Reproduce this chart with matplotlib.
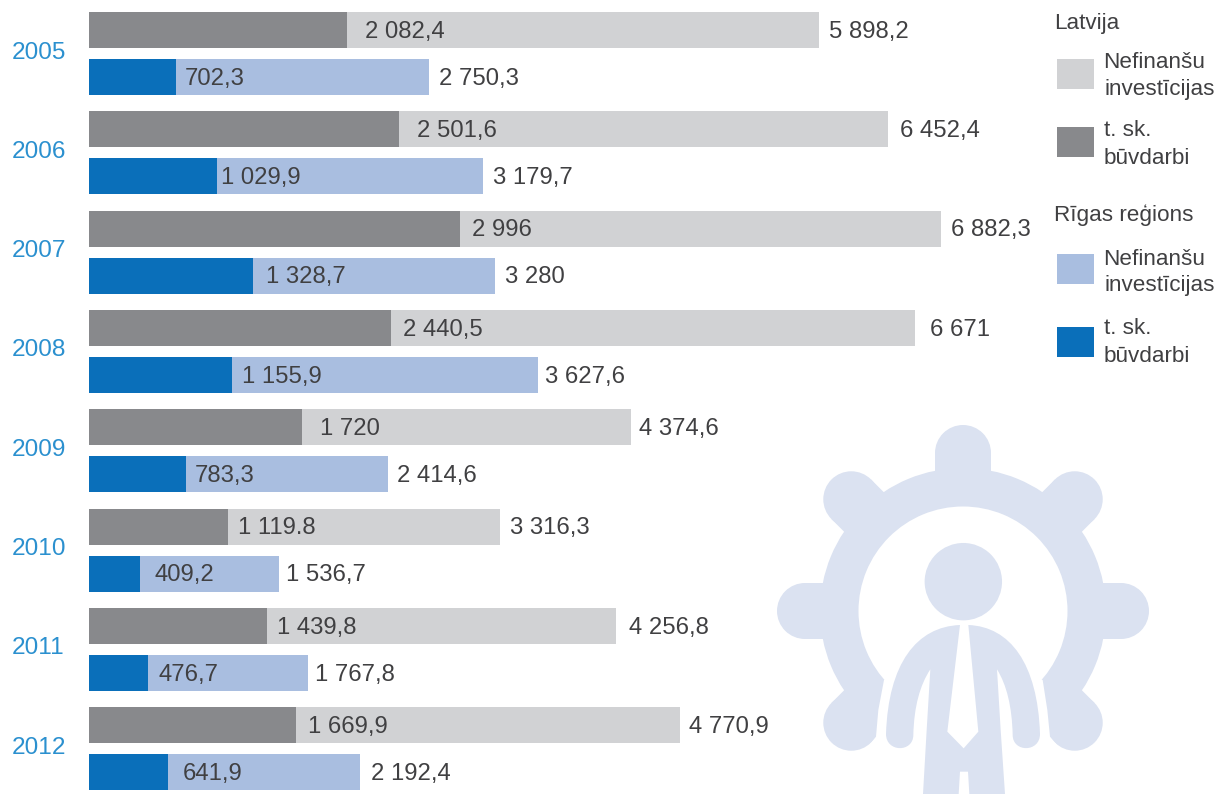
import matplotlib
matplotlib.use('Agg')
import matplotlib.pyplot as plt
import numpy as np
from matplotlib.patches import Circle, Wedge, Polygon, Rectangle, PathPatch
from matplotlib.path import Path

plt.rcParams['font.family'] = ['Liberation Sans', 'DejaVu Sans']

years = ['2005', '2006', '2007', '2008', '2009', '2010', '2011', '2012']
lv_total = [5898.2, 6452.4, 6882.3, 6671, 4374.6, 3316.3, 4256.8, 4770.9]
lv_constr = [2082.4, 2501.6, 2996, 2440.5, 1720, 1119.8, 1439.8, 1669.9]
riga_total = [2750.3, 3179.7, 3280, 3627.6, 2414.6, 1536.7, 1767.8, 2192.4]
riga_constr = [702.3, 1029.9, 1328.7, 1155.9, 783.3, 409.2, 476.7, 641.9]

lv_total_txt = ['5 898,2', '6 452,4', '6 882,3', '6 671', '4 374,6', '3 316,3', '4 256,8', '4 770,9']
lv_constr_txt = ['2 082,4', '2 501,6', '2 996', '2 440,5', '1 720', '1 119.8', '1 439,8', '1 669,9']
riga_total_txt = ['2 750,3', '3 179,7', '3 280', '3 627,6', '2 414,6', '1 536,7', '1 767,8', '2 192,4']
riga_constr_txt = ['702,3', '1 029,9', '1 328,7', '1 155,9', '783,3', '409,2', '476,7', '641,9']

# label gaps after the bar end, in pixels
lv_total_gap = [10, 12, 10, 15, 8, 10, 13, 9]
lv_constr_gap = [18, 18, 12, 12, 18, 10, 10, 12]
riga_total_gap = [10, 10, 10, 7, 9, 7, 7, 11]
riga_constr_gap = [9, 4, 13, 10, 9, 15, 10, 14]

W, H = 1227, 794
PX_PER_UNIT = 0.1238
PITCH = 99.3
TEXT = '#404042'
FS = 17.2

fig = plt.figure(figsize=(W / 100, H / 100), dpi=100)

# icon and legend sit in plain pixel coordinates
bg = fig.add_axes([0, 0, 1, 1])
bg.set_xlim(0, W)
bg.set_ylim(H, 0)
bg.axis('off')

ICON = '#dbe2f1'


def z(x, y):
    # zoomed crop coords to pixels
    return (770 + x / 3, 410 + y / 3)


cx, cy = z(579, 603)
for ang in [0, 45, 90, 135, 180, 225, 270, 315]:
    a = np.radians(ang)
    ux, uy = np.cos(a), np.sin(a)
    px, py = -uy * 28, ux * 28
    r0, r1 = 120, 158
    bg.add_patch(Polygon([(cx + ux * r0 + px, cy + uy * r0 + py), (cx + ux * r1 + px, cy + uy * r1 + py),
                          (cx + ux * r1 - px, cy + uy * r1 - py), (cx + ux * r0 - px, cy + uy * r0 - py)],
                         fc=ICON, ec='none', zorder=1))
    bg.add_patch(Circle((cx + ux * r1, cy + uy * r1), 28, fc=ICON, ec='none', zorder=1))
bg.add_patch(Wedge((cx, cy), 143, 0, 360, width=38.5, fc=ICON, ec='none', zorder=1))
cut = [z(*p) for p in [(342, 810), (325, 900), (318, 980), (270, 1040), (270, 1160), (890, 1160),
                       (890, 1040), (840, 980), (832, 900), (818, 810), (579, 700)]]
bg.add_patch(Polygon(cut, fc='white', ec='none', zorder=2))
bg.add_patch(Circle(z(580, 515), 38.7, fc=ICON, ec='none', zorder=3))

body = [
    (Path.MOVETO, (570, 645)),
    (Path.CURVE4, (440, 650)), (Path.CURVE4, (355, 760)), (Path.CURVE4, (348, 972)),
    (Path.CURVE4, (348, 1028)), (Path.CURVE4, (430, 1028)), (Path.CURVE4, (430, 975)),
    (Path.CURVE4, (432, 890)), (Path.CURVE4, (450, 825)), (Path.CURVE4, (481, 778)),
    (Path.LINETO, (470, 960)), (Path.LINETO, (459, 1152)), (Path.LINETO, (566, 1152)),
    (Path.LINETO, (570, 1085)), (Path.LINETO, (594, 1085)), (Path.LINETO, (598, 1152)),
    (Path.LINETO, (705, 1152)), (Path.LINETO, (692, 960)), (Path.LINETO, (681, 778)),
    (Path.CURVE4, (710, 825)), (Path.CURVE4, (726, 890)), (Path.CURVE4, (728, 975)),
    (Path.CURVE4, (728, 1028)), (Path.CURVE4, (810, 1028)), (Path.CURVE4, (810, 972)),
    (Path.CURVE4, (803, 760)), (Path.CURVE4, (720, 650)), (Path.CURVE4, (595, 645)),
    (Path.LINETO, (625, 965)), (Path.LINETO, (581, 1015)), (Path.LINETO, (532, 965)),
    (Path.CLOSEPOLY, (570, 645)),
]
bg.add_patch(PathPatch(Path([z(*v) for c, v in body], [c for c, v in body]), fc=ICON, ec='none', zorder=3))

# legend
legend_swatches = [(59, '#d1d2d4'), (127, '#88898c'), (254, '#a9bee0'), (327, '#0a6fba')]
for top, col in legend_swatches:
    bg.add_patch(Rectangle((1057, top), 37, 30, fc=col, ec='none'))
legend_text = [(1054, 23.5, 'Latvija'), (1103, 63, 'Nefinanšu'), (1104, 90, 'investīcijas'),
               (1104, 131, 't. sk.'), (1104, 158, 'būvdarbi'), (1054, 215.5, 'Rīgas reģions'),
               (1103, 259.5, 'Nefinanšu'), (1104, 286, 'investīcijas'), (1104, 329, 't. sk.'),
               (1104, 356, 'būvdarbi')]
for x, y, s in legend_text:
    bg.text(x, y, s, fontsize=16.2, color=TEXT, va='center', ha='left')

# bars
ax = fig.add_axes([89 / W, 0, (W - 89) / W, 1])
ax.patch.set_alpha(0)
ax.set_xlim(0, (W - 89) / PX_PER_UNIT)
ax.set_ylim((H - 50) / PITCH, -50 / PITCH)
for s in ax.spines.values():
    s.set_visible(False)
ax.set_xticks([])
ax.set_yticks(range(len(years)))
ax.set_yticklabels(years, fontsize=17.6, color='#2b90cf', ha='left')
ax.tick_params(axis='y', length=0, pad=55.5)
for lbl in ax.get_yticklabels():
    lbl.set_verticalalignment('center_baseline')

pos = np.arange(len(years))
top_y = pos - 20 / PITCH
low_y = pos + 27 / PITCH
h = 36 / PITCH
ax.barh(top_y, lv_total, height=h, color='#d1d2d4')
ax.barh(top_y, lv_constr, height=h, color='#88898c')
ax.barh(low_y, riga_total, height=h, color='#a9bee0')
ax.barh(low_y, riga_constr, height=h, color='#0a6fba')

for ys, vals, txts, gaps in [(top_y, lv_total, lv_total_txt, lv_total_gap),
                             (top_y, lv_constr, lv_constr_txt, lv_constr_gap),
                             (low_y, riga_total, riga_total_txt, riga_total_gap),
                             (low_y, riga_constr, riga_constr_txt, riga_constr_gap)]:
    for y, v, t, g in zip(ys, vals, txts, gaps):
        ax.annotate(t, (v, y), xytext=(g * 0.72, -1.3), textcoords='offset points',
                    fontsize=FS, color=TEXT, va='center', ha='left')

fig.savefig('out.png', dpi=100)
